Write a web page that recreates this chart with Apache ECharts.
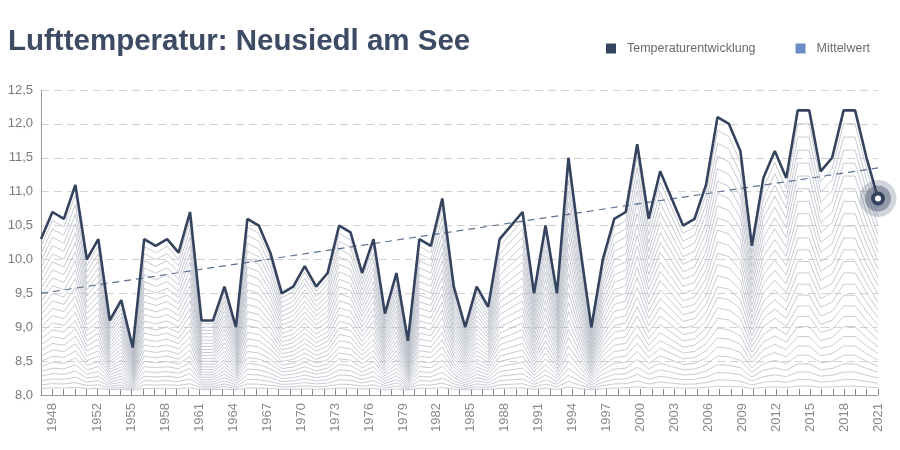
<!DOCTYPE html>
<html><head><meta charset="utf-8">
<script src="https://cdn.jsdelivr.net/npm/echarts@6/dist/echarts.min.js"></script>
<style>html,body{margin:0;padding:0;background:#fff}#c{width:900px;height:450px}</style>
</head><body><div id="c"></div>
<script>
// Axis categories (ticks) 1947..2021
const axisYears = ['1947','1948','1949','1950','1951','1952','1953','1954','1955','1956','1957','1958','1959','1960','1961','1962','1963','1964','1965','1966','1967','1968','1969','1970','1971','1972','1973','1974','1975','1976','1977','1978','1979','1980','1981','1982','1983','1984','1985','1986','1987','1988','1989','1990','1991','1992','1993','1994','1995','1996','1997','1998','1999','2000','2001','2002','2003','2004','2005','2006','2007','2008','2009','2010','2011','2012','2013','2014','2015','2016','2017','2018','2019','2020','2021'];
// Tick labels that are shown
const tickLabels = ['1948','1952','1955','1958','1961','1964','1967','1970','1973','1976','1979','1982','1985','1988','1991','1994','1997','2000','2003','2006','2009','2012','2015','2018','2021'];
// Data years (series is spread over the full axis width)
const dataYears = ['1948','1949','1950','1951','1952','1953','1954','1955','1956','1957','1958','1959','1960','1961','1962','1963','1964','1965','1966','1967','1968','1969','1970','1971','1972','1973','1974','1975','1976','1977','1978','1979','1980','1981','1982','1983','1984','1985','1986','1987','1988','1989','1990','1991','1992','1993','1994','1995','1996','1997','1998','1999','2000','2001','2002','2003','2004','2005','2006','2007','2008','2009','2010','2011','2012','2013','2014','2015','2016','2017','2018','2019','2020','2021'];
// Temperaturentwicklung (°C)
const temperature = [10.3,10.7,10.6,11.1,10.0,10.3,9.1,9.4,8.7,10.3,10.2,10.3,10.1,10.7,9.1,9.1,9.6,9.0,10.6,10.5,10.1,9.5,9.6,9.9,9.6,9.8,10.5,10.4,9.8,10.3,9.2,9.8,8.8,10.3,10.2,10.9,9.6,9.0,9.6,9.3,10.3,10.5,10.7,9.5,10.5,9.5,11.5,10.2,9.0,10.0,10.6,10.7,11.7,10.6,11.3,10.9,10.5,10.6,11.1,12.1,12.0,11.6,10.2,11.2,11.6,11.2,12.2,12.2,11.3,11.5,12.2,12.2,11.5,10.9];
// Mittelwert (trend) start / end
const mittelwert = [9.5, 11.35];
// y axis ticks
const yMin = 8, yMax = 12.5, yStep = 0.5;

const NAVY = '#34435e';
const baseLevel = 8.06;
const nLines = 26;

const series = [];
// decorative contour lines below the main line, derived from the main series
for (let j = 1; j < nLines; j++) {
  const t = Math.pow(j / nLines, 1.25);
  series.push({
    type: 'line', xAxisIndex: 1, silent: true, symbol: 'none', z: 1,
    lineStyle: { color: '#b6bac4', width: 0.75 },
    data: temperature.map(v => +(baseLevel + (v - baseLevel) * t).toFixed(4))
  });
}
series.push({
  name: 'Mittelwert', type: 'line', xAxisIndex: 1, symbol: 'none', z: 3,
  lineStyle: { color: '#5d7393', width: 1.2, type: [7, 5] },
  itemStyle: { color: '#6a8dc8' },
  data: [[dataYears[0], mittelwert[0]], [dataYears[dataYears.length - 1], mittelwert[1]]]
});
series.push({
  name: 'Temperaturentwicklung', type: 'line', xAxisIndex: 1, symbol: 'none', z: 4,
  lineStyle: { color: NAVY, width: 2.6 },
  itemStyle: { color: NAVY },
  data: temperature
});
const last = [[dataYears[dataYears.length - 1], temperature[temperature.length - 1]]];
[[37, 'rgba(52,67,94,0.22)'], [26, 'rgba(52,67,94,0.40)'], [14, NAVY], [6, '#ffffff']].forEach(([s, c], k) => {
  series.push({ type: 'scatter', xAxisIndex: 1, silent: true, symbol: 'circle', symbolSize: s, z: 5 + k,
    itemStyle: { color: c, opacity: 1 }, data: last });
});

const chart = echarts.init(document.getElementById('c'), null, { renderer: 'canvas' });
chart.setOption({
  animation: false,
  backgroundColor: '#ffffff',
  textStyle: { fontFamily: 'Liberation Sans' },
  title: {
    text: 'Lufttemperatur: Neusiedl am See', left: 8, top: 27, padding: 0,
    textStyle: { fontSize: 29.5, fontWeight: 'bold', color: '#3d4b64', fontFamily: 'Liberation Sans' }
  },
  legend: {
    left: 601, top: 37, itemWidth: 10, itemHeight: 10, itemGap: 40, icon: 'rect',
    textStyle: { fontSize: 12.5, color: '#6b6b6b', padding: [0, 0, 0, 6] },
    data: [
      { name: 'Temperaturentwicklung', itemStyle: { color: NAVY } },
      { name: 'Mittelwert', itemStyle: { color: '#6a8dc8' } }
    ],
    selectedMode: false
  },
  grid: { left: 41, right: 22, top: 90, bottom: 55, containLabel: false },
  xAxis: [
    {
      type: 'category', data: axisYears, boundaryGap: false, position: 'bottom',
      axisLine: { show: true, lineStyle: { color: '#9a9a9a', width: 1 } },
      axisTick: { show: true, inside: true, length: 6, interval: 0, lineStyle: { color: '#8a8a8a' } },
      axisLabel: {
        rotate: 90, margin: 8, fontSize: 13, color: '#8a8a8a',
        interval: (idx, val) => tickLabels.indexOf(val) >= 0
      },
      splitLine: { show: false }
    },
    {
      type: 'category', data: dataYears, boundaryGap: false, show: false
    }
  ],
  yAxis: {
    type: 'value', min: yMin, max: yMax, interval: yStep,
    axisLine: { show: true, lineStyle: { color: '#9a9a9a', width: 1 } },
    axisTick: { show: false },
    axisLabel: { fontSize: 13, color: '#7a7a7a', margin: 8, formatter: v => v.toFixed(1).replace('.', ',') },
    splitLine: { show: true, lineStyle: { color: '#d2d2d2', width: 1.2, type: [8, 5] } }
  },
  series: series
});
</script>
</body></html>
